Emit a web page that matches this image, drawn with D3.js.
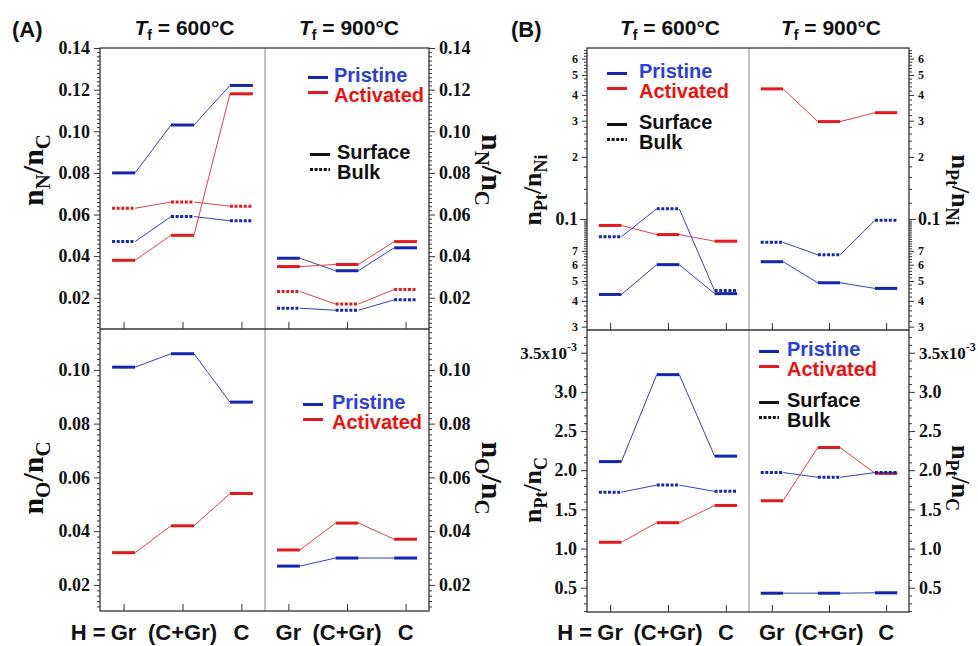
<!DOCTYPE html>
<head>
  <meta charset="utf-8">
  <script src="https://d3js.org/d3.v7.min.js"></script>
  <style>
    body { margin:0; background:#fff; }
  </style>
</head>

<body>
  <svg id="fig" width="978" height="646"></svg>
  <script>
    // categories on x (H = host), one array per temperature half: [600, 900]
    const categories = ["Gr", "(C+Gr)", "C"];
    const temps = ["600", "900"];

    // (A) top: nN/nC
    const nN_pri_surf = [[0.080, 0.103, 0.122], [0.039, 0.033, 0.044]];
    const nN_act_surf = [[0.038, 0.050, 0.118], [0.035, 0.036, 0.047]];
    const nN_pri_bulk = [[0.047, 0.059, 0.057], [0.015, 0.014, 0.019]];
    const nN_act_bulk = [[0.063, 0.066, 0.064], [0.023, 0.017, 0.024]];
    // (A) bottom: nO/nC
    const nO_pri_surf = [[0.101, 0.106, 0.088], [0.027, 0.030, 0.030]];
    const nO_act_surf = [[0.032, 0.042, 0.054], [0.033, 0.043, 0.037]];
    // (B) top: nPt/nNi (log)
    const ptNi_pri_surf = [[0.043, 0.060, 0.0434], [0.062, 0.049, 0.046]];
    const ptNi_act_surf = [[0.093, 0.084, 0.078], [0.428, 0.297, 0.328]];
    const ptNi_pri_bulk = [[0.082, 0.112, 0.0449], [0.077, 0.067, 0.0985]];
    // (B) bottom: nPt/nC
    const ptC_pri_surf = [[2.11e-3, 3.22e-3, 2.18e-3], [0.43e-3, 0.43e-3, 0.435e-3]];
    const ptC_act_surf = [[1.08e-3, 1.33e-3, 1.55e-3], [1.61e-3, 2.29e-3, 1.96e-3]];
    const ptC_pri_bulk = [[1.72e-3, 1.81e-3, 1.73e-3], [1.97e-3, 1.91e-3, 1.97e-3]];

    // tick values
    const nN_ticks = [0.02, 0.04, 0.06, 0.08, 0.10, 0.12, 0.14];
    const nO_ticks = [0.02, 0.04, 0.06, 0.08, 0.10];
    const ptNi_ticks = [0.03, 0.04, 0.05, 0.06, 0.07, 0.1, 0.2, 0.3, 0.4, 0.5, 0.6];
    const ptC_ticks = [0.5e-3, 1.0e-3, 1.5e-3, 2.0e-3, 2.5e-3, 3.0e-3, 3.5e-3];

    const BLUE = "#1426b0", BLUE_T = "#3443b4", RED = "#e3191f", RED_T = "#d64545";
    const BLUE_TXT = "#2b3fdc", RED_TXT = "#ee1111";
    const serif = "Liberation Serif", sans = "Liberation Sans";
    const hw = 0.195; // half width of a level bar, in x units

    const svg = d3.select("#fig");

    const near = (v, arr) => arr.some(t => Math.abs(t - v) < 1e-9);
    const stepRange = (a, b, s) => d3.range(Math.round((b - a) / s) + 1).map(i => +(a + i * s).toPrecision(6));

    const panels = [
      { x0: 100, xm: 265, x1: 429, y0: 48, y1: 329,
        y: d3.scaleLinear().domain([0.005, 0.14]),
        ticks: nN_ticks, minor: stepRange(0.006, 0.14, 0.002), fmt: d3.format(".2f"),
        series: [[nN_pri_surf, "p", false], [nN_act_surf, "a", false], [nN_pri_bulk, "p", true], [nN_act_bulk, "a", true]] },
      { x0: 100, xm: 265, x1: 429, y0: 329, y1: 611,
        y: d3.scaleLinear().domain([0.0103, 0.1152]),
        ticks: nO_ticks, minor: stepRange(0.012, 0.114, 0.002), fmt: d3.format(".2f"),
        series: [[nO_pri_surf, "p", false], [nO_act_surf, "a", false]] },
      { x0: 587, xm: 749, x1: 909, y0: 48, y1: 330, log: true,
        y: d3.scaleLog().domain([0.0289, 0.676]),
        ticks: ptNi_ticks, minor: stepRange(0.03, 0.1, 0.002).concat(stepRange(0.1, 0.66, 0.02)),
        fmt: d => d === 0.1 ? "0.1" : String(Math.round(d < 0.1 ? d * 100 : d * 10)),
        series: [[ptNi_pri_surf, "p", false], [ptNi_act_surf, "a", false], [ptNi_pri_bulk, "p", true]] },
      { x0: 587, xm: 749, x1: 909, y0: 330, y1: 612,
        y: d3.scaleLinear().domain([0.19e-3, 3.79e-3]),
        ticks: ptC_ticks, minor: stepRange(0.2e-3, 3.7e-3, 0.1e-3),
        fmt: d => Math.abs(d - 3.5e-3) < 1e-9 ? "3.5x10" : (d * 1000).toFixed(1),
        series: [[ptC_pri_surf, "p", false], [ptC_act_surf, "a", false], [ptC_pri_bulk, "p", true]] }
    ];

    function styleAxis(a) {
      a.select(".domain").remove();
      a.attr("font-family", serif).attr("font-weight", "bold").attr("font-size", 18);
      a.selectAll("line").attr("stroke", "#333").attr("stroke-width", 1);
      a.selectAll("text").attr("fill", "#111");
    }

    panels.forEach(p => {
      p.y.range([p.y1, p.y0]);
      const g = svg.append("g");
      const halves = [[p.x0, p.xm], [p.xm, p.x1]].map(r => d3.scaleLinear().domain([0.6, 3.4]).range(r));

      // y axes, left and right
      [["left", p.x0], ["right", p.x1]].forEach(([side, x]) => {
        const mk = side === "left" ? d3.axisLeft : d3.axisRight;
        const minors = p.minor.filter(v => !near(v, p.ticks));
        const mg = g.append("g").attr("transform", `translate(${x},0)`)
          .call(mk(p.y).tickValues(minors).tickSize(3).tickFormat(""));
        styleAxis(mg);
        const a = g.append("g").attr("transform", `translate(${x},0)`)
          .call(mk(p.y).tickValues(p.ticks).tickSize(p.log ? 5 : 6).tickPadding(4).tickFormat(p.fmt));
        styleAxis(a);
        if (p.log) {
          a.selectAll(".tick").filter(d => d === 0.1).select("line").attr("x2", side === "left" ? -7 : 7);
          a.selectAll("text").attr("font-size", d => d === 0.1 ? 18 : 12);
        }
        a.selectAll("text").filter(d => Math.abs(d - 3.5e-3) < 1e-9)
          .attr("font-size", 17)
          .append("tspan").attr("dy", -8).attr("font-size", 12).text("-3");
      });

      // category ticks (inward) at the bottom of each panel
      halves.forEach(xs => {
        const a = g.append("g").attr("transform", `translate(0,${p.y1})`)
          .call(d3.axisBottom(xs).tickValues([1, 2, 3]).tickSize(-7).tickFormat(""));
        styleAxis(a);
      });

      // series: thick level bars joined by thin lines
      p.series.forEach(([vals, kind, dotted]) => {
        const c = kind === "p" ? BLUE : RED, ct = kind === "p" ? BLUE_T : RED_T;
        halves.forEach((xs, h) => {
          const v = vals[h];
          for (let i = 0; i < v.length - 1; i++) {
            g.append("line")
              .attr("x1", xs(i + 1 + hw)).attr("y1", p.y(v[i]))
              .attr("x2", xs(i + 2 - hw)).attr("y2", p.y(v[i + 1]))
              .attr("stroke", ct).attr("stroke-width", 1);
          }
          g.selectAll(null).data(v).join("line")
            .attr("x1", (d, i) => xs(i + 1 - hw)).attr("x2", (d, i) => xs(i + 1 + hw))
            .attr("y1", d => p.y(d)).attr("y2", d => p.y(d))
            .attr("stroke", c).attr("stroke-width", 3)
            .attr("stroke-dasharray", dotted ? "3,1.6" : null);
        });
      });
    });

    // frames
    [[100, 265, 429, 48, 329, 611], [587, 749, 909, 48, 330, 612]].forEach(([x0, xm, x1, y0, ym, y1]) => {
      svg.append("line").attr("x1", xm).attr("x2", xm).attr("y1", y0).attr("y2", y1)
        .attr("stroke", "#8a8a8a").attr("stroke-width", 1);
      svg.append("rect").attr("x", x0).attr("y", y0).attr("width", x1 - x0).attr("height", y1 - y0)
        .attr("fill", "none").attr("stroke", "#333").attr("stroke-width", 1.3);
      svg.append("line").attr("x1", x0).attr("x2", x1).attr("y1", ym).attr("y2", ym)
        .attr("stroke", "#333").attr("stroke-width", 1.3);
    });

    // category labels and temperature titles
    [[100, 265, 429], [587, 749, 909]].forEach(([x0, xm, x1]) => {
      [[x0, xm], [xm, x1]].forEach((r, h) => {
        const xs = d3.scaleLinear().domain([0.6, 3.4]).range(r);
        categories.forEach((c, i) => {
          svg.append("text").attr("x", xs(i + 1)).attr("y", 640)
            .attr("text-anchor", "middle").attr("font-family", sans).attr("font-weight", "bold")
            .attr("font-size", 22).attr("fill", "#111").text(c);
        });
        if (h === 0) {
          svg.append("text").attr("x", xs(1) - 18).attr("y", 640)
            .attr("text-anchor", "end").attr("font-family", sans).attr("font-weight", "bold")
            .attr("font-size", 22).attr("fill", "#111").text("H =");
        }
        const t = svg.append("text").attr("x", (r[0] + r[1]) / 2 + 2).attr("y", 35)
          .attr("text-anchor", "middle").attr("font-family", sans).attr("font-weight", "bold")
          .attr("font-size", 21).attr("fill", "#111");
        t.append("tspan").attr("font-style", "italic").text("T");
        t.append("tspan").attr("font-size", 14).attr("dy", 5).text("f");
        t.append("tspan").attr("dy", -5).text(` = ${temps[h]}°C`);
      });
    });

    svg.append("text").attr("x", 12).attr("y", 37).attr("font-family", sans).attr("font-weight", "bold")
      .attr("font-size", 22).attr("fill", "#111").text("(A)");
    svg.append("text").attr("x", 511).attr("y", 37).attr("font-family", sans).attr("font-weight", "bold")
      .attr("font-size", 22).attr("fill", "#111").text("(B)");

    // axis titles
    function axisTitle(x, y, rot, parts, fs, sub) {
      const t = svg.append("text").attr("transform", `translate(${x},${y}) rotate(${rot})`)
        .attr("text-anchor", "middle").attr("font-family", serif).attr("font-weight", "bold")
        .attr("font-size", fs).attr("fill", "#111");
      t.append("tspan").text("n");
      t.append("tspan").attr("font-size", sub).attr("dy", fs * 0.22).text(parts[0]);
      t.append("tspan").attr("dy", -fs * 0.22).text("/n");
      t.append("tspan").attr("font-size", sub).attr("dy", fs * 0.22).text(parts[1]);
    }
    axisTitle(43, 170, -90, ["N", "C"], 30, 21);
    axisTitle(43, 478, -90, ["O", "C"], 30, 21);
    axisTitle(482, 170, 90, ["N", "C"], 30, 21);
    axisTitle(482, 478, 90, ["O", "C"], 30, 21);
    axisTitle(541, 190, -90, ["Pt", "Ni"], 26, 18);
    axisTitle(541, 490, -90, ["Pt", "C"], 26, 18);
    axisTitle(952, 190, 90, ["Pt", "Ni"], 26, 18);
    axisTitle(952, 478, 90, ["Pt", "C"], 26, 18);

    // legends
    function legend(lx, tx, b, rows) {
      rows.forEach((r, i) => {
        const yb = b + i * 20;
        svg.append("line").attr("x1", lx).attr("x2", lx + 20)
          .attr("y1", yb - (i === 0 ? 4.5 : 9.5)).attr("y2", yb - (i === 0 ? 4.5 : 9.5))
          .attr("stroke", r[1]).attr("stroke-width", 3).attr("stroke-dasharray", r[2] ? "3,1.6" : null);
        svg.append("text").attr("x", tx).attr("y", yb).attr("font-family", sans).attr("font-weight", "bold")
          .attr("font-size", 20).attr("fill", r[3]).text(r[0]);
      });
    }
    const colorRows = [["Pristine", BLUE, false, BLUE_TXT], ["Activated", RED, false, RED_TXT]];
    const styleRows = [["Surface", "#111", false, "#111"], ["Bulk", "#111", true, "#111"]];
    legend(308, 334, 82, colorRows);
    legend(310, 337, 159, styleRows);
    legend(303, 332, 409, colorRows);
    legend(607, 639, 78, colorRows);
    legend(607, 639, 129, styleRows);
    legend(759, 787, 356, colorRows);
    legend(759, 787, 407, styleRows);
  </script>
</body>
